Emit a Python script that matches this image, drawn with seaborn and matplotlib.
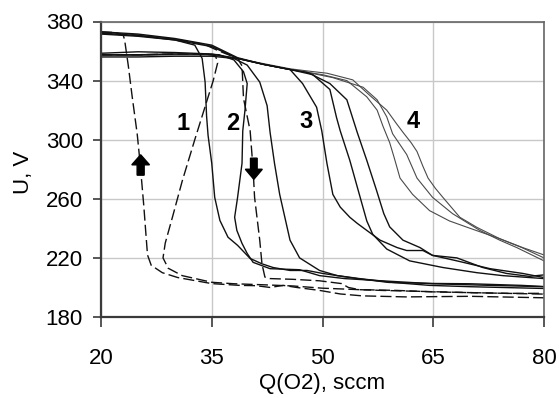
import matplotlib
matplotlib.use("Agg")
import matplotlib.pyplot as plt
import seaborn as sns
import pandas as pd

sns.set_theme(style="white")
plt.rcParams['font.family'] = ['Liberation Sans', 'DejaVu Sans']

# ---- axes ----
x_ticks = [20, 35, 50, 65, 80]
y_ticks = [180, 220, 260, 300, 340, 380]
x_label = "Q(O2), sccm"
y_label = "U, V"

# ---- curves ----
S1_x = [20, 25, 30, 32.7, 33.7, 34.1, 34.3, 34.5, 35.0, 35.4, 36.1, 37.2, 38.5, 40.2, 41.8, 43.3, 45.6, 47.9, 50.0, 54.7, 59.0, 65.0, 70.0, 77.0, 80.0]
S1_y = [371.5, 370, 367.5, 364, 355, 339, 316, 303, 284, 261, 245.4, 234, 228.5, 219.6, 216, 213.5, 211.5, 211.5, 209.5, 206, 203.4, 202.7, 202.5, 201.4, 200.6]

S2_x = [20, 25, 30, 34, 36, 38, 39.3, 39.8, 39.5, 39.2, 39.1, 38.5, 38.1, 38.4, 39.1, 39.8, 40.6, 42.9, 46.9, 49.6, 53, 58, 65, 72, 80]
S2_y = [357.5, 357.5, 358, 358, 357.5, 354, 346, 338, 320, 306, 284, 261, 247.5, 238.6, 229.8, 223, 217, 212.7, 212, 208, 206, 204.5, 202.5, 201.5, 200.5]

S3_x = [20, 25, 30, 35, 38, 39.8, 41.5, 42.5, 42.9, 43.5, 44.2, 45.6, 46.9, 49.6, 52, 55, 59.5, 64.5, 70, 80]
S3_y = [356, 356, 356.5, 356.5, 355, 350.5, 339, 323, 305, 284, 263, 232, 220, 211.5, 208, 206, 203.4, 201.4, 200.5, 199.3]

A_x = [20, 25, 30, 35, 38.5, 42, 45.6, 47.3, 49.2, 49.9, 50.6, 51.4, 52.4, 53.7, 54.7, 56, 57.8, 60.1, 61.4, 63.6, 64.9, 68.2, 72.7, 77.1, 80]
A_y = [373, 371.5, 368.5, 364, 355.5, 351, 347.5, 338, 322, 306, 284, 263, 254.4, 247.5, 243.4, 238.6, 232, 227, 225, 225, 221.7, 218, 212.7, 209.5, 206.7]

B_x = [20, 25, 30, 35, 38.5, 42, 45.6, 48.7, 51, 51.9, 52.4, 53.7, 55.1, 56, 56.8, 58.7, 61.8, 66.3, 70.9, 74.4, 80]
B_y = [372, 370.5, 367.5, 363, 355, 351, 347.5, 344, 334, 315, 306, 286, 261, 245, 236, 226, 218, 213.5, 210, 208, 206]

C_x = [20, 25, 30, 35, 38.5, 42, 45.6, 48, 51, 53.3, 54.7, 56, 57.3, 58.3, 59.1, 60.9, 63.2, 64.9, 68.2, 71.7, 74.9, 78, 80]
C_y = [358.5, 359.5, 359, 358, 355, 351, 347.5, 345.5, 338, 327, 305, 286, 266, 250, 241, 232, 227, 221.7, 220, 213.5, 209.5, 207.5, 208.5]

F4a_x = [20, 25, 30, 35, 38.5, 42, 45.6, 48, 50.6, 54.1, 56.4, 58.7, 60, 60.9, 62, 62.8, 63.6, 64.3, 65.3, 66.3, 68.6, 70.9, 74, 77.1, 80]
F4a_y = [372.5, 371, 368, 363.5, 355, 351.5, 348, 346.5, 345, 340.5, 330, 320, 311, 305, 298, 292, 282, 274, 267, 261, 247.5, 240.7, 233, 227, 222]

F4b_x = [20, 25, 30, 35, 38.5, 42, 45.6, 48, 51.4, 55.5, 57.4, 58.7, 59.5, 61.4, 62.8, 64.9, 67.6, 71.3, 74, 76.3, 80]
F4b_y = [357, 357, 357.5, 357.5, 355, 351, 347.5, 345.5, 342, 335.5, 327, 315.5, 304, 290, 274, 261, 250, 238.6, 232, 227, 218]

F4c_x = [20, 25, 30, 35, 38.5, 42, 45.6, 50, 53.3, 56, 57.4, 58.2, 59.1, 59.7, 60.5, 62.2, 64.5, 67.2, 70, 74, 77, 80]
F4c_y = [357.5, 357.5, 358, 357.5, 355, 351, 347.5, 344, 340, 329, 320, 309, 298, 288, 274, 263, 252, 245, 240, 233, 227, 220]

D1_x = [20, 22, 23, 23.2, 23.7, 24.2, 24.9, 25.3, 25.8, 26.1, 26.3, 26.8, 28.3, 30.4, 35, 38.8, 41, 42.9, 44.7, 46.5, 49.6, 52.4, 55.4, 61.3, 70, 75, 80]
D1_y = [373, 372.5, 371, 367.5, 350, 330, 304, 284, 255, 235, 222, 215, 210, 206.7, 202.6, 201.4, 201.2, 200, 201.4, 200, 198, 195.6, 194.3, 193.6, 194, 193.5, 193]

D2_x = [20, 25, 30, 34, 35.5, 35.8, 35.2, 33.7, 32.7, 31, 29.7, 28.7, 28.4, 29.1, 31, 35, 38, 42, 46, 50, 55, 60, 65, 70, 80]
D2_y = [357.5, 357.5, 358, 358, 357, 352, 340, 316, 300, 272, 248, 230, 220, 213, 208, 203.5, 202.5, 201.8, 201, 199.5, 198.5, 198, 197, 196.5, 195.5]

D3_x = [20, 25, 30, 34, 36, 37.5, 38.5, 39.1, 39.3, 40.2, 40.6, 40.8, 41.5, 41.8, 42.2, 42.9, 46, 49.6, 52.6, 53.5, 55, 58, 62, 66, 70, 75, 80]
D3_y = [372, 370.5, 368, 364.5, 360, 357, 355, 350, 328, 306, 280, 261, 232, 216, 207, 206, 205.5, 204.5, 202.6, 200, 198.5, 198, 197.5, 197, 196.5, 196, 196]

curve_labels = ["1", "2", "3", "4"]
curve_label_x = [31.1, 37.9, 47.8, 62.3]
curve_label_y = [310.8, 310.8, 312.5, 312.0]

solid_black = [(S1_x, S1_y), (S2_x, S2_y), (S3_x, S3_y), (A_x, A_y), (B_x, B_y), (C_x, C_y)]
solid_gray = [(F4a_x, F4a_y), (F4b_x, F4b_y), (F4c_x, F4c_y)]
dashed = [(D1_x, D1_y), (D2_x, D2_y), (D3_x, D3_y)]

fig = plt.figure(figsize=(5.59, 3.98), dpi=100)
ax = fig.add_axes([101 / 559, 1 - 317 / 398, 443 / 559, 295.5 / 398])

for xs, ys in solid_gray:
    sns.lineplot(x=xs, y=ys, sort=False, estimator=None, ax=ax,
                 color="#4a4a4a", lw=0.8)
for xs, ys in solid_black:
    sns.lineplot(x=xs, y=ys, sort=False, estimator=None, ax=ax,
                 color="#111111", lw=1.0)
for xs, ys in dashed:
    sns.lineplot(x=xs, y=ys, sort=False, estimator=None, ax=ax,
                 color="#111111", lw=1.0, linestyle=(0, (8, 3)))

# arrows
ax.arrow(25.37, 276, 0, 13.8, width=0.95, head_width=2.4, head_length=6.8,
         length_includes_head=True, fc="black", ec="black", zorder=5)
ax.arrow(40.7, 287.5, 0, -14.3, width=0.9, head_width=2.3, head_length=6.8,
         length_includes_head=True, fc="black", ec="black", zorder=5)

for t, tx, ty in zip(curve_labels, curve_label_x, curve_label_y):
    ax.text(tx, ty, t, fontsize=17, fontweight="bold", ha="center", va="center",
            color="black")

ax.set_xlim(20, 80)
ax.set_ylim(180, 380)
ax.set_xticks(x_ticks)
ax.set_yticks(y_ticks)
ax.grid(True, color="#c8c8c8", lw=1.0)
ax.set_axisbelow(True)

for side in ["left", "bottom"]:
    ax.spines[side].set_color("#3a3a3a")
    ax.spines[side].set_linewidth(1.6)
for side in ["top", "right"]:
    ax.spines[side].set_color("#666666")
    ax.spines[side].set_linewidth(1.2)
    ax.spines[side].set_visible(True)

ax.tick_params(axis="x", direction="out", length=7, width=1.2, colors="#3a3a3a",
               labelcolor="black", labelsize=16, pad=15, bottom=True)
ax.tick_params(axis="y", direction="out", length=6, width=1.2, colors="#3a3a3a",
               labelcolor="black", labelsize=16, pad=7, left=True)

ax.set_xlabel(x_label, fontsize=16, color="black")
ax.set_ylabel(y_label, fontsize=16, color="black")
ax.xaxis.set_label_coords(0.5, -0.19)
ax.yaxis.label.set_va("center")
ax.yaxis.set_label_coords(-0.176, 0.49)

fig.savefig("out.png", dpi=100)
